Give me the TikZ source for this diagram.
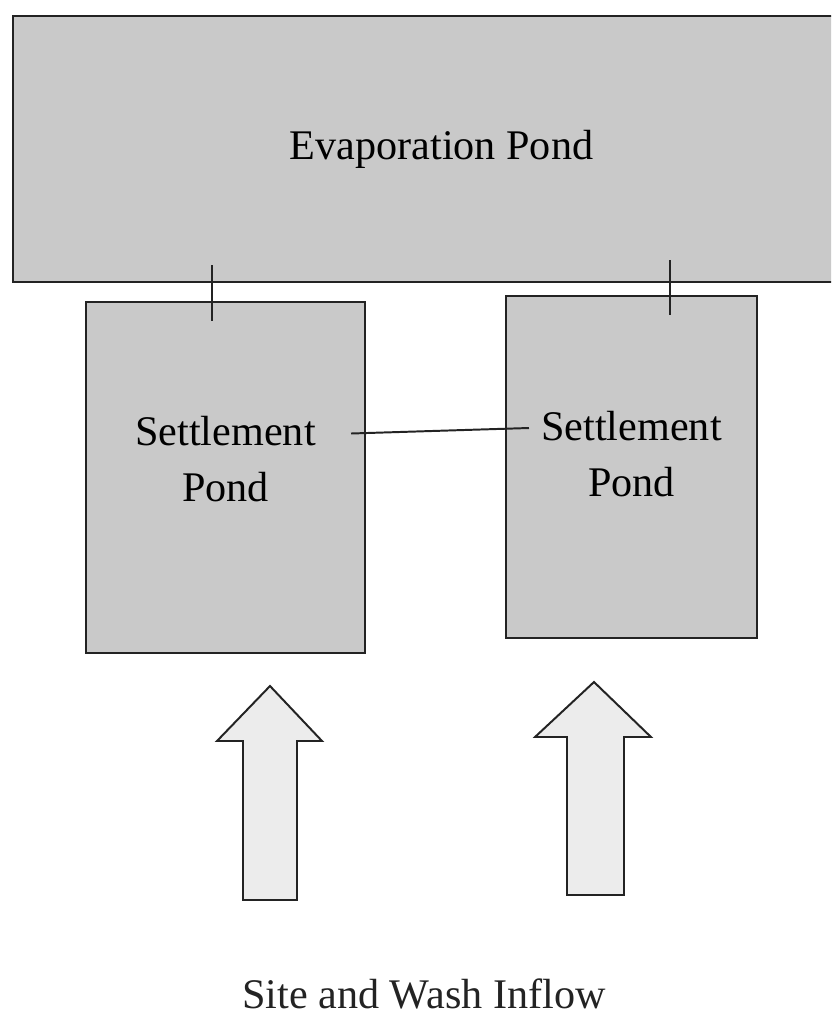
\documentclass[tikz,border=0pt]{standalone}
\usepackage{xcolor}
\usepackage{fontspec}
\setmainfont{Liberation Serif}
\usepackage{tikz}
\usetikzlibrary{positioning, calc}
\definecolor{pondgray}{RGB}{201,201,201}
\definecolor{flowgray}{RGB}{236,236,236}
\definecolor{inkdark}{RGB}{35,35,35}
\tikzset{
  pond/.style={rectangle, draw=inkdark, fill=pondgray, line width=1.4pt,
    align=center, inner sep=0pt, font=\fontsize{30}{40}\selectfont},
  pipe/.style={line width=1.4pt, color=inkdark},
  inflow/.style={draw=inkdark, fill=flowgray, line width=1.4pt, line join=miter}
}

\begin{document}
\begin{tikzpicture}[x=0.025cm, y=-0.025cm]
  \clip (0,0) rectangle (831,1015);
  % Ponds
  \node[pond, minimum width=21.425cm, minimum height=6.65cm] (evap) at (441.5,149) {Evaporation Pond};
  \node[pond, minimum width=6.975cm, minimum height=8.775cm, text depth=27pt] (settleA) at (225.5,477.5) {Settlement\\Pond};
  \node[pond, minimum width=6.275cm, minimum height=8.55cm, text depth=19pt] (settleB) at (631.5,467) {Settlement\\Pond};

  % Pipes to the evaporation pond
  \coordinate (tickA) at (212,265);
  \coordinate (tickB) at (670,260);
  \draw[pipe] (tickA) -- (tickA |- settleA.north) -- ++(0,20);
  \draw[pipe] (tickB) -- (tickB |- settleB.north) -- ++(0,20);
  % Link between the settlement ponds
  \draw[pipe] ($(settleA.east)+(-15,-44)$) -- ($(settleB.west)+(24,-39)$);

  % Inflow arrows
  \draw[inflow] (243,900) -- (243,741) -- (217,741) -- (270,686) -- (322,741) -- (297,741) -- (297,900) -- cycle;
  \draw[inflow] (567,895) -- (567,737) -- (535,737) -- (594,682) -- (651,737) -- (624,737) -- (624,895) -- cycle;

  \node[font=\fontsize{30}{36}\selectfont, color=inkdark, anchor=base, inner sep=0pt, text depth=0pt] (inflow) at (424,1008) {Site and Wash Inflow};
\end{tikzpicture}
\end{document}
